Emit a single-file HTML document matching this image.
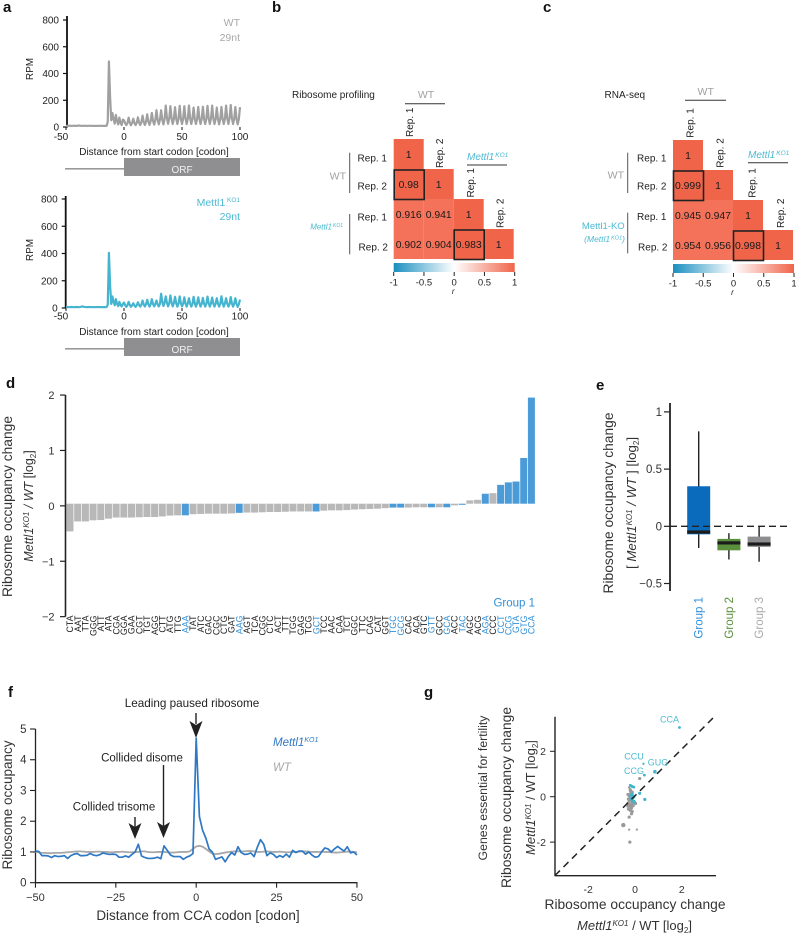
<!DOCTYPE html>
<html lang="en">
<head>
<meta charset="utf-8">
<title>Ribosome occupancy figure</title>
<style>
html,body{margin:0;padding:0;background:#fff;}
svg{display:block;font-family:"Liberation Sans",Arial,sans-serif;filter:blur(0.3px);}
.l{font-weight:bold;font-size:15px;fill:#111;}
.s{font-size:10px;fill:#222;}
.i{font-style:italic;}
</style>
</head>
<body>
<svg id="fig" width="796" height="934" viewBox="0 0 796 934" xmlns="http://www.w3.org/2000/svg">
<rect width="796" height="934" fill="#fff"/>

<!-- panel letters -->
<text class="l" x="3" y="12">a</text>
<text class="l" x="272" y="12">b</text>
<text class="l" x="543" y="12">c</text>
<text class="l" x="6" y="388">d</text>
<text class="l" x="596" y="390">e</text>
<text class="l" x="8" y="697">f</text>
<text class="l" x="424" y="697">g</text>

<!-- panel a -->
<text class="s" transform="translate(33,69) rotate(-90)" text-anchor="middle">RPM</text>
<text x="240" y="26" font-size="10.5" fill="#a8a8a8" text-anchor="end">WT</text>
<text x="240" y="41" font-size="10.5" fill="#a8a8a8" text-anchor="end">29nt</text>
<text class="s" x="154" y="155" text-anchor="middle">Distance from start codon [codon]</text>
<rect x="65" y="168" width="59" height="1.6" fill="#999"/>
<rect x="124" y="158" width="116" height="18" fill="#8f8f92"/>
<text x="182" y="173" font-size="10" fill="#f0f0f0" text-anchor="middle">ORF</text>

<text class="s" transform="translate(33,250) rotate(-90)" text-anchor="middle">RPM</text>
<text x="240" y="206" font-size="10.5" fill="#4dbad2" text-anchor="end">Mettl1<tspan font-size="6.5" dy="-4"> KO1</tspan></text>
<text x="240" y="220" font-size="10.5" fill="#4dbad2" text-anchor="end">29nt</text>
<text class="s" x="154" y="335" text-anchor="middle">Distance from start codon [codon]</text>
<rect x="65" y="348" width="59" height="1.6" fill="#999"/>
<rect x="124" y="338" width="116" height="18" fill="#8f8f92"/>
<text x="182" y="353" font-size="10" fill="#f0f0f0" text-anchor="middle">ORF</text>

<!-- panel b labels -->
<text class="s" x="292" y="98">Ribosome profiling</text>
<text x="426" y="98" font-size="10.5" fill="#a0a0a0" text-anchor="middle">WT</text>
<line x1="405" x2="445" y1="103.7" y2="103.7" stroke="#333" stroke-width="1"/>
<text class="s" transform="translate(413,137) rotate(-90)">Rep. 1</text>
<text class="s" transform="translate(443,168) rotate(-90)">Rep. 2</text>
<text class="s" transform="translate(474,197.5) rotate(-90)">Rep. 1</text>
<text class="s" transform="translate(503.5,228) rotate(-90)">Rep. 2</text>
<text x="467" y="160" font-size="10" fill="#4dbad2" font-style="italic">Mettl1<tspan font-size="6.5" dy="-3" dx="1">KO1</tspan></text>
<line x1="467" x2="507" y1="165" y2="165" stroke="#333" stroke-width="1"/>
<text class="s" x="387" y="161.5" text-anchor="end">Rep. 1</text>
<text class="s" x="387" y="189.5" text-anchor="end">Rep. 2</text>
<text class="s" x="387" y="220.5" text-anchor="end">Rep. 1</text>
<text class="s" x="388" y="250.5" text-anchor="end">Rep. 2</text>
<line x1="349.7" x2="349.7" y1="152.7" y2="193" stroke="#555" stroke-width="1"/>
<line x1="349.7" x2="349.7" y1="214" y2="254.3" stroke="#555" stroke-width="1"/>
<text x="346" y="179.5" font-size="10.5" fill="#a0a0a0" text-anchor="end">WT</text>
<text x="343" y="229.5" font-size="8" fill="#4dbad2" font-style="italic" text-anchor="end">Mettl1<tspan font-size="5" dy="-2.5" dx="1">KO1</tspan></text>

<!-- panel c labels -->
<text class="s" x="604.5" y="98">RNA-seq</text>
<text x="705.7" y="95" font-size="10.5" fill="#a0a0a0" text-anchor="middle">WT</text>
<line x1="685" x2="726" y1="100.3" y2="100.3" stroke="#333" stroke-width="1"/>
<text class="s" transform="translate(693.5,137.7) rotate(-90)">Rep. 1</text>
<text class="s" transform="translate(723.5,167.7) rotate(-90)">Rep. 2</text>
<text class="s" transform="translate(755.5,197.7) rotate(-90)">Rep. 1</text>
<text class="s" transform="translate(784,228) rotate(-90)">Rep. 2</text>
<text x="748" y="158" font-size="10" fill="#4dbad2" font-style="italic">Mettl1<tspan font-size="6.5" dy="-3" dx="1">KO1</tspan></text>
<line x1="748" x2="788" y1="162.7" y2="162.7" stroke="#333" stroke-width="1"/>
<text class="s" x="666.5" y="161.5" text-anchor="end">Rep. 1</text>
<text class="s" x="666.5" y="189.5" text-anchor="end">Rep. 2</text>
<text class="s" x="666.5" y="220" text-anchor="end">Rep. 1</text>
<text class="s" x="667.5" y="250.5" text-anchor="end">Rep. 2</text>
<line x1="627.7" x2="627.7" y1="152.7" y2="193" stroke="#555" stroke-width="1"/>
<line x1="627.7" x2="627.7" y1="212.7" y2="253.3" stroke="#555" stroke-width="1"/>
<text x="624" y="178.5" font-size="10.5" fill="#a0a0a0" text-anchor="end">WT</text>
<text x="624.7" y="229" font-size="9.5" fill="#4dbad2" text-anchor="end">Mettl1-KO</text>
<text x="625" y="242" font-size="8.5" fill="#4dbad2" font-style="italic" text-anchor="end">(Mettl1<tspan font-size="5.5" dy="-2.5" dx="1">KO1</tspan><tspan dy="2.5">)</tspan></text>

<!-- panel d labels -->
<text font-size="13.8" fill="#333" transform="translate(12,506.5) rotate(-90)" text-anchor="middle">Ribosome occupancy change</text>
<text font-size="12.5" fill="#333" transform="translate(33,506) rotate(-90)" text-anchor="middle"><tspan font-style="italic">Mettl1</tspan><tspan font-size="8" font-style="italic" dy="-4">KO1</tspan><tspan dy="4" font-style="italic"> / WT</tspan> [log<tspan font-size="8" dy="3">2</tspan><tspan dy="-3">]</tspan></text>
<text x="535" y="606.5" font-size="11.5" fill="#2f8fd8" text-anchor="end">Group 1</text>

<!-- panel e labels -->
<text font-size="13.8" fill="#333" transform="translate(613,503) rotate(-90)" text-anchor="middle">Ribosome occupancy change</text>
<text font-size="13.3" fill="#333" transform="translate(636,503) rotate(-90)" text-anchor="middle">[ <tspan font-style="italic">Mettl1</tspan><tspan font-size="8" font-style="italic" dy="-4">KO1</tspan><tspan dy="4" font-style="italic"> / WT</tspan> ] [log<tspan font-size="8" dy="3">2</tspan><tspan dy="-3">]</tspan></text>

<!-- panel f labels -->
<text font-size="13.5" fill="#333" transform="translate(12,805) rotate(-90)" text-anchor="middle">Ribosome occupancy</text>
<text font-size="13.5" fill="#333" x="198" y="920" text-anchor="middle">Distance from CCA codon [codon]</text>
<text x="273" y="746" font-size="11.5" fill="#2f78c4" font-style="italic">Mettl1<tspan font-size="7" dy="-4">KO1</tspan></text>
<text x="273" y="771" font-size="11.5" fill="#a8a8a8" font-style="italic">WT</text>
<text x="192" y="707" font-size="11.7" fill="#222" text-anchor="middle">Leading paused ribosome</text>
<text x="142" y="761.7" font-size="11.5" fill="#222" text-anchor="middle">Collided disome</text>
<text x="114" y="810.7" font-size="11.5" fill="#222" text-anchor="middle">Collided trisome</text>
<g><line x1="196" x2="196" y1="713" y2="724" stroke="#222" stroke-width="1.4"/><polygon points="189.5,721 196,725 202.5,721 196,738" fill="#222"/></g>
<g><line x1="163.5" x2="163.5" y1="765" y2="826" stroke="#222" stroke-width="1.4"/><polygon points="157,822 163.5,826 170,822 163.5,838" fill="#222"/></g>
<g><line x1="135" x2="135" y1="817" y2="827" stroke="#222" stroke-width="1.4"/><polygon points="128.5,823 135,827 141.5,823 135,839" fill="#222"/></g>

<!-- panel g labels -->
<text font-size="12.3" fill="#333" transform="translate(487,788) rotate(-90)" text-anchor="middle">Genes essential for fertility</text>
<text font-size="13.8" fill="#333" transform="translate(511,797.5) rotate(-90)" text-anchor="middle">Ribosome occupancy change</text>
<text font-size="13" fill="#333" transform="translate(535,797.5) rotate(-90)" text-anchor="middle"><tspan font-style="italic">Mettl1</tspan><tspan font-size="8" font-style="italic" dy="-4">KO1</tspan><tspan dy="4"> / WT [log</tspan><tspan font-size="8" dy="3">2</tspan><tspan dy="-3">]</tspan></text>
<text font-size="13.8" fill="#333" x="635" y="909" text-anchor="middle">Ribosome occupancy change</text>
<text font-size="13" fill="#333" x="634.5" y="930" text-anchor="middle"><tspan font-style="italic">Mettl1</tspan><tspan font-size="8" font-style="italic" dy="-4">KO1</tspan><tspan dy="4"> / WT [log</tspan><tspan font-size="8" dy="3">2</tspan><tspan dy="-3">]</tspan></text>
</svg>

<script>
/* ---------- panel a data ---------- */
const startTicksX = [-50, 0, 50, 100];
const rpmTicksY = [0, 200, 400, 600, 800];
const rpmWT = [
8,9,8,10,9,8,9,10,9,8,10,11,10,9,8,9,10,9,8,9,10,9,8,9,9,8,9,8,9,10,8,9,8,9,8,9,
40,490,230,50,105,60,25,90,45,20,70,30,15,55,
50,28,14,30, 70,32,13,30, 62,30,14,32, 72,34,15,36, 85,38,15,40,
95,42,16,44, 105,48,18,50, 125,55,20,55, 125,55,20,60, 160,70,24,65,
155,65,22,62, 148,62,22,60, 158,65,22,62, 155,65,22,60, 160,68,22,62,
145,60,22,60, 150,62,22,62, 152,62,22,62, 158,65,22,65, 160,65,22,60,
145,60,20,60, 150,62,22,62, 160,65,22,65, 165,68,22,62, 150,60,20,60,
148];
const rpmKO = [
7,8,7,6,7,8,7,6,7,8,7,6,7,9,12,10,8,7,6,7,8,7,6,7,7,6,7,8,7,6,7,7,6,7,6,7,
25,405,170,30,85,45,20,65,30,14,45,22,12,30,
40,20,8,22, 45,22,9,20, 35,18,8,20, 42,22,10,24, 55,26,11,28,
60,28,10,28, 65,30,12,30, 55,26,12,30, 105,45,15,40, 85,38,12,34,
92,40,12,36, 82,36,10,34, 85,36,12,32, 78,34,10,34, 72,32,10,30,
82,36,10,34, 78,34,10,32, 74,32,10,32, 84,36,10,34, 76,34,10,32,
72,32,10,32, 86,36,10,34, 72,32,10,30, 80,34,10,32, 72,30,8,28,
62];

/* ---------- panel b, c data ---------- */
const colorbarTicks = [-1, -0.5, 0, 0.5, 1];
const ribosomeCorr = [
[1],
[0.98, 1],
[0.916, 0.941, 1],
[0.902, 0.904, 0.983, 1]];
const rnaCorr = [
[1],
[0.999, 1],
[0.945, 0.947, 1],
[0.954, 0.956, 0.998, 1]];
const ribosomeText = ["1","0.98","1","0.916","0.941","1","0.902","0.904","0.983","1"];
const rnaText = ["1","0.999","1","0.945","0.947","1","0.954","0.956","0.998","1"];

/* ---------- panel d data ---------- */
const codons = ["CTA","AAT","TTA","GGG","ATT","ATA","CGA","GGA","GAA","CGT","TGT","AGG","CTT","ATG","TTG","AAA","TAT","ATC","GAC","CGC","CTG","GAT","AAG","AGT","TCA","CGG","CTC","ACT","TTT","TGG","GAG","TCG","GCT","TCC","AAC","CAA","TCT","GGC","TTC","CAG","CAT","GGT","TGC","GCG","CAC","ACA","GTC","GTT","GCC","GCA","ACC","TAC","AGC","ACG","AGA","CCC","CCT","CCG","GTA","GTG","CCA"];
const codonChange = [-0.5,-0.32,-0.32,-0.3,-0.295,-0.27,-0.25,-0.25,-0.25,-0.245,-0.24,-0.24,-0.23,-0.215,-0.21,-0.21,-0.19,-0.185,-0.18,-0.18,-0.18,-0.175,-0.165,-0.16,-0.16,-0.155,-0.15,-0.15,-0.145,-0.14,-0.14,-0.14,-0.14,-0.125,-0.12,-0.12,-0.115,-0.105,-0.1,-0.095,-0.09,-0.08,-0.07,-0.07,-0.07,-0.065,-0.065,-0.065,-0.065,-0.065,-0.03,-0.02,0.06,0.07,0.18,0.19,0.34,0.385,0.4,0.825,1.915];
const group1Codons = ["AAA","AAG","GCT","TGC","GCG","GTT","GCA","TAC","AGA","CCT","CCG","GTA","GTG","CCA"];
const changeTicksY = [-2, -1, 0, 1, 2];

/* ---------- panel e data ---------- */
const boxGroups = ["Group 1", "Group 2", "Group 3"];
const boxHigh = [0.83, -0.06, -0.005];
const boxQ3 = [0.35, -0.11, -0.09];
const boxMedian = [-0.05, -0.145, -0.155];
const boxQ1 = [-0.07, -0.21, -0.18];
const boxLow = [-0.19, -0.29, -0.31];
const boxTicksY = [-0.5, 0, 0.5, 1];

/* ---------- panel f data ---------- */
const ccaTicksX = [-50, -25, 0, 25, 50];
const ccaTicksY = [0, 1, 2, 3, 4, 5];
const occKO = [
1.03,1.02,0.88,0.88,0.87,0.82,0.88,0.85,0.86,0.88,
0.79,0.88,0.93,0.95,0.88,0.88,0.89,0.95,0.9,0.88,
0.91,0.97,0.94,0.92,0.93,0.92,0.83,0.83,0.87,0.83,
0.92,1.0,1.25,0.87,0.82,0.79,0.79,0.8,0.83,0.78,
1.2,1.05,0.9,0.85,0.85,0.85,0.76,0.83,0.87,0.95,
4.7,2.15,1.7,1.45,1.1,1.0,0.76,0.8,0.84,0.68,
0.85,0.98,0.9,1.17,0.98,0.92,0.93,0.97,0.85,1.15,
1.4,1.25,0.88,0.97,0.92,0.82,0.88,0.83,0.93,0.83,
1.05,0.98,1.03,1.03,0.93,1.0,0.9,0.83,0.85,1.0,
1.13,1.1,1.0,1.1,1.18,1.1,1.03,1.17,0.97,1.0,
0.9];
const occWT = [
1.0,0.99,0.97,0.97,0.96,0.96,0.97,0.97,0.97,0.98,
0.99,1.0,1.01,1.02,1.02,1.01,1.0,1.0,1.0,1.01,
1.01,1.0,1.0,0.99,0.99,1.0,1.0,1.01,1.0,0.99,
0.99,1.0,1.0,1.02,1.02,1.0,0.99,0.99,1.0,1.0,
1.0,0.99,0.98,0.98,0.99,1.0,1.0,1.0,1.02,1.1,
1.18,1.2,1.17,1.1,1.02,0.95,0.93,0.94,0.96,0.98,
1.0,1.01,1.02,1.02,1.02,1.02,1.03,1.03,1.02,1.0,
1.0,1.01,1.02,1.01,1.0,1.0,1.01,1.0,0.99,0.99,
1.0,1.0,1.01,1.02,1.02,1.01,1.0,1.0,1.0,1.01,
1.0,1.0,0.99,0.98,0.98,0.99,1.0,1.01,1.02,1.0,
0.99];

/* ---------- panel g data ---------- */
const scatterTicks = [-2, 0, 2];
const grayX = [0.2,-0.5,-0.25,0.08,-0.22,-0.25,-0.15,-0.25,-0.2,-0.3,-0.25,-0.18,-0.12,-0.28,-0.2,-0.1,-0.15,-0.25,-0.3,-0.2,-0.12,-0.05,-0.18,-0.25,-0.15,-0.08,-0.2,-0.28,-0.12,-0.2,-0.15,-0.22,0.02,-0.3];
const grayY = [0.8,-1.25,-1.45,-1.45,-2,-0.9,-0.75,0.4,0.25,0.1,0.05,0.15,0.2,-0.1,-0.05,0,-0.15,-0.2,-0.3,-0.35,-0.3,-0.25,-0.45,-0.4,-0.5,-0.4,-0.6,-0.55,-0.65,0.3,-0.2,-0.1,-0.3,-0.42];
const grayR = [1.6,2.2,1.1,1.1,1.6,1.6,1.6,1.2,1.5,1.6,1.6,1.6,1.6,1.6,1.6,1.6,1.6,1.6,1.6,1.6,1.6,1.6,1.6,1.6,1.6,1.6,1.6,1.6,1.6,1.6,1.6,1.6,1.6,1.6];
const tealX = [1.9,0.36,0.85,0.4,-0.2,-0.12,-0.05,0.2,0.42,-0.15,-0.1,-0.05,-0.15,-0.05,-0.02,-0.12];
const tealY = [3.05,1.45,1.1,0.95,0.5,0.45,0.42,0.15,-0.12,0.05,-0.05,-0.2,-0.1,0,-0.25,0.12];
const tealR = [1.4,1.1,1.8,1.4,1.5,1.5,1.4,1.6,1.6,1.7,1.7,1.6,1.6,1.6,1.6,1.6];

/* ---------- helpers ---------- */
const svg = document.getElementById('fig');
const NS = 'http://www.w3.org/2000/svg';
function add(tag, attrs, txt) {
  const e = document.createElementNS(NS, tag);
  for (const k in attrs) e.setAttribute(k, attrs[k]);
  if (txt !== undefined) e.textContent = txt;
  svg.appendChild(e);
  return e;
}
const minus = v => String(v).replace('-', '\u2212');

/* ---------- panel a ---------- */
function drawProfile(series, color, prefix, y800, y0, axisX, axisTop, tickY) {
  const xs = c => 124 + c * 1.16;
  const ys = v => y0 + (y800 - y0) * v / 800;
  let p = add('line', {x1: axisX, x2: axisX, y1: axisTop, y2: y0 + 0.5, stroke: '#111', 'stroke-width': 1.8});
  
  
  rpmTicksY.forEach(t => {
    const m = add('line', {x1: axisX - 4, x2: axisX, y1: ys(t), y2: ys(t), stroke: '#111', 'stroke-width': 1.2});
    
    
    const l = add('text', {x: axisX - 8, y: ys(t) + 3.6, 'font-size': 10, fill: '#222', 'text-anchor': 'end'}, t);
    
    
  });
  startTicksX.forEach(t => {
    const m = add('line', {x1: xs(t), x2: xs(t), y1: y0, y2: y0 + 3, stroke: '#111', 'stroke-width': 1});
    
    
    const l = add('text', {x: xs(t) + (t === -50 ? -5 : 0), y: tickY, 'font-size': 10, fill: '#222', 'text-anchor': 'middle'}, t);
    
    
  });
  const d = series.map((v, i) => (i ? 'L' : 'M') + xs(i - 50).toFixed(2) + ' ' + ys(v).toFixed(2)).join('');
  const line = add('path', {d: d, fill: 'none', stroke: color, 'stroke-width': 2.2, 'stroke-linejoin': 'round'});
  
  
}
drawProfile(rpmWT, '#a0a0a0', 'wt', 20, 127, 67, 16, 140);
drawProfile(rpmKO, '#45b5cf', 'ko', 199, 308, 65.7, 196, 319.5);

/* ---------- panels b, c ---------- */
function drawHeat(matrix, labels, prefix, x0, y0, gradId, barY) {
  const cw = 30, ch = 30;
  let n = 0;
  matrix.forEach((row, i) => row.forEach((r, j) => {
    const c = add('rect', {x: x0 + j * cw, y: y0 + i * ch, width: cw, height: ch, fill: r > 0.975 ? '#f0644a' : '#f37259'});
    
    
  }));
  matrix.forEach((row, i) => row.forEach((r, j) => {
    const t = add('text', {x: x0 + j * cw + cw / 2, y: y0 + i * ch + ch / 2 + 3.8, 'font-size': 10.4, fill: '#1a1a1a', 'text-anchor': 'middle'}, labels[n]);
    
    
    n++;
  }));
  [[1, 0], [3, 2]].forEach(rc => {
    const b = add('rect', {x: x0 + rc[1] * cw + 0.5, y: y0 + rc[0] * ch + 1, width: cw, height: ch - 0.5, fill: 'none', stroke: '#222', 'stroke-width': 1.6});
    
    
  });
  const bar = add('rect', {x: x0, y: barY, width: 121, height: 9, fill: 'url(#' + gradId + ')'});
  
  
  colorbarTicks.forEach(t => {
    const x = x0 + (t + 1) * 60.5;
    const m = add('line', {x1: x, x2: x, y1: barY + 9, y2: barY + 13, stroke: '#222', 'stroke-width': 1});
    
    
    const l = add('text', {x: x, y: barY + 22.5, 'font-size': 9.5, fill: '#222', 'text-anchor': 'middle'}, t);
    
    
  });
  const rl = add('text', {x: x0 + 59.5, y: barY + 31, 'font-size': 8, fill: '#222', 'font-style': 'italic', 'text-anchor': 'middle'}, 'r');
  
  
}
const defs = add('defs', {});
defs.innerHTML = ['gb', 'gc'].map(id => '<linearGradient id="' + id + '"><stop offset="0" stop-color="#1a8fbf"/><stop offset="0.5" stop-color="#ffffff"/><stop offset="1" stop-color="#f0644a"/></linearGradient>').join('');
drawHeat(ribosomeCorr, ribosomeText, 'ribosome', 393.7, 139, 'gb', 263);
drawHeat(rnaCorr, rnaText, 'rna', 673, 140, 'gc', 264);

/* ---------- panel d ---------- */
const dX = i => 70 + i * 7.69;
const dY = v => 505.85 - v * 55.4;
const dAxis = add('line', {x1: 65.5, x2: 65.5, y1: dY(2), y2: dY(-2), stroke: '#222', 'stroke-width': 1.6});


changeTicksY.forEach(t => {
  const m = add('line', {x1: 60, x2: 65.5, y1: dY(t), y2: dY(t), stroke: '#222', 'stroke-width': 1.2});
  
  
  const l = add('text', {x: 54.5, y: dY(t) + 4, 'font-size': 11, fill: '#333', 'text-anchor': 'end'}, minus(t));
  
  
});
codons.forEach((c, i) => {
  const v = codonChange[i];
  const isG1 = group1Codons.includes(c);
  const top = dY(Math.max(v, 0)) - 2.15, h = Math.abs(v) * 55.4;
  const b = add('rect', {x: dX(i) - 3.5, y: top, width: 7, height: h, fill: isG1 ? '#4a9bd8' : '#b8b8b8'});
  
  
  const l = add('text', {'font-size': 8.8, fill: isG1 ? '#2f8fd8' : '#222', 'text-anchor': 'end', transform: 'translate(' + (dX(i) + 3.2) + ',615.5) rotate(-90)'}, c);
  
  
});

/* ---------- panel e ---------- */
const eY = v => 526.3 - v * 114.4;
const eX = i => 698.7 + i * 30.2;
const eColors = ['#0a6bbd', '#5a8f3c', '#8e8e90'];
const eText = ['#2f8fd8', '#5a8f3c', '#aaaaaa'];
const eAxis = add('line', {x1: 670, x2: 670, y1: 403, y2: 591, stroke: '#222', 'stroke-width': 1.8});


boxTicksY.forEach(t => {
  const m = add('line', {x1: 664, x2: 670, y1: eY(t), y2: eY(t), stroke: '#222', 'stroke-width': 1.2});
  
  
  const l = add('text', {x: 662, y: eY(t) + 4, 'font-size': 11.5, fill: '#333', 'text-anchor': 'end'}, minus(t));
  
  
});
boxGroups.forEach((g, i) => {
  const w = add('line', {x1: eX(i), x2: eX(i), y1: eY(boxHigh[i]), y2: eY(boxLow[i]), stroke: '#222', 'stroke-width': 1.4});
  
  
  const b = add('rect', {x: eX(i) - 11.5, y: eY(boxQ3[i]), width: 23, height: eY(boxQ1[i]) - eY(boxQ3[i]), fill: eColors[i]});
  
  
  const m = add('rect', {x: eX(i) - 11.5, y: eY(boxMedian[i]) - 1.6, width: 23, height: 3.2, fill: '#1c1c1c'});
  
  
  const l = add('text', {'font-size': 11.5, fill: eText[i], 'text-anchor': 'end', transform: 'translate(' + (eX(i) + 4) + ',597) rotate(-90)'}, g);
  
  
});
const eDash = add('line', {x1: 670, x2: 791, y1: eY(0), y2: eY(0), stroke: '#222', 'stroke-width': 1.3, 'stroke-dasharray': '7 4'});



/* ---------- panel f ---------- */
const fX = c => 196.2 + c * 3.215;
const fY = v => 882.7 - v * 30.74;
const fAxisY = add('line', {x1: 35.5, x2: 35.5, y1: fY(5), y2: fY(0), stroke: '#222', 'stroke-width': 1.3});


const fAxisX = add('line', {x1: 35, x2: 357.5, y1: fY(0), y2: fY(0), stroke: '#222', 'stroke-width': 1.3});


ccaTicksY.forEach(t => {
  const m = add('line', {x1: 30, x2: 35.5, y1: fY(t), y2: fY(t), stroke: '#222', 'stroke-width': 1.1});
  
  
  const l = add('text', {x: 26.5, y: fY(t) + 4, 'font-size': 11.5, fill: '#333', 'text-anchor': 'end'}, t);
  
  
});
ccaTicksX.forEach(t => {
  const m = add('line', {x1: fX(t), x2: fX(t), y1: fY(0), y2: fY(0) + 5, stroke: '#222', 'stroke-width': 1.1});
  
  
  const l = add('text', {x: fX(t), y: 901, 'font-size': 11, fill: '#333', 'text-anchor': 'middle'}, minus(t));
  
  
});
const fPath = s => s.map((v, i) => (i ? 'L' : 'M') + fX(i - 50).toFixed(2) + ' ' + fY(v).toFixed(2)).join('');
const wtLine = add('path', {d: fPath(occWT), fill: 'none', stroke: '#a8a8a8', 'stroke-width': 1.8});


const koLine = add('path', {d: fPath(occKO), fill: 'none', stroke: '#2f78c4', 'stroke-width': 1.7, 'stroke-linejoin': 'round'});



/* ---------- panel g ---------- */
const gX = v => 635 + v * 23.4;
const gY = v => 796.7 - v * 22.7;
const gAxisY = add('line', {x1: 555, x2: 555, y1: 716.7, y2: 875.7, stroke: '#222', 'stroke-width': 1.4});


const gAxisX = add('line', {x1: 554.5, x2: 716, y1: 875.7, y2: 875.7, stroke: '#222', 'stroke-width': 1.4});


scatterTicks.forEach(t => {
  const m = add('line', {x1: 550, x2: 555, y1: gY(t), y2: gY(t), stroke: '#222', 'stroke-width': 1});
  
  
  const l = add('text', {x: 546, y: gY(t) + 3.7, 'font-size': 10.5, fill: '#333', 'text-anchor': 'end'}, t);
  
  
  const n = add('text', {x: gX(t), y: 893, 'font-size': 10.5, fill: '#333', 'text-anchor': 'middle'}, t);
  
  
});
grayX.forEach((x, i) => {
  const c = add('circle', {cx: gX(x), cy: gY(grayY[i]), r: grayR[i], fill: '#9a9a9a'});
  
  
});
tealX.forEach((x, i) => {
  const c = add('circle', {cx: gX(x), cy: gY(tealY[i]), r: tealR[i], fill: '#3fb4cc'});
  
  
});
const gDiag = add('line', {x1: 555, y1: 875.5, x2: 713, y2: 718, stroke: '#222', 'stroke-width': 1.5, 'stroke-dasharray': '7 5'});


const gLabelText = ["CCA", "CCU", "GUG", "CCG"];
const gLabelX = [660, 624.3, 647.7, 624];
const gLabelY = [722.7, 759.3, 765.7, 774];
gLabelText.forEach((t, i) => {
  const l = add('text', {x: gLabelX[i], y: gLabelY[i], 'font-size': 9, fill: '#4dbad2'}, t);
  
  
});
</script>
</body>
</html>
